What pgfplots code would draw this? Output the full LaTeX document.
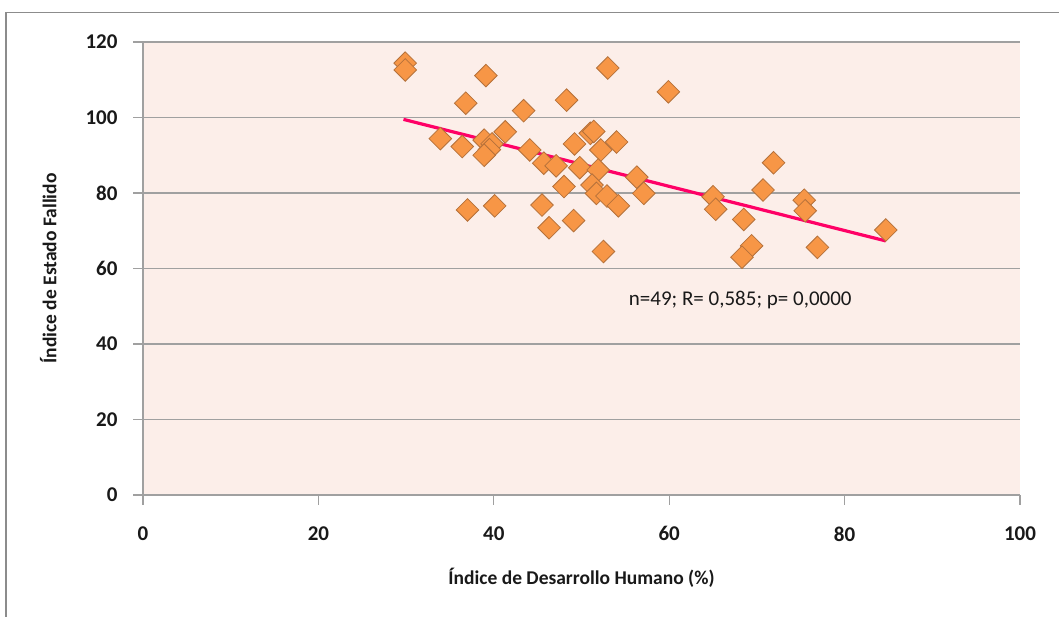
\documentclass[border=0pt]{standalone}
\usepackage{fontspec}
\setmainfont{Carlito}
\usepackage{pgfplots}
\pgfplotsset{compat=1.18}
\definecolor{bgpink}{HTML}{FCEEE9}
\definecolor{mkfill}{HTML}{F79646}
\definecolor{mkdraw}{HTML}{B5713A}
\definecolor{trend}{HTML}{FF0066}
\definecolor{gridgray}{HTML}{A0A0A0}
\definecolor{framegray}{HTML}{8C8C8C}
\begin{document}
\begin{tikzpicture}[x=1pt,y=1pt]
\path[use as bounding box] (0,0) rectangle (1059,617);
\draw[color=framegray, line width=1.6pt] (6,0) -- (6,604.5) -- (1059,604.5);
\begin{axis}[
  at={(143pt,122pt)}, anchor=south west,
  scale only axis, width=877pt, height=453pt,
  xmin=0, xmax=100, ymin=0, ymax=120,
  xtick={0,20,...,100}, ytick={0,20,...,120},
  axis x line*=bottom, axis y line*=left,
  axis line style={-, draw=gridgray, line width=1.2pt},
  axis background/.style={fill=bgpink},
  ymajorgrids, grid style={draw=gridgray, line width=1.2pt},
  tick align=outside, major tick length=10pt,
  tick style={draw=gridgray, line width=1.2pt},
  /pgf/number format/assume math mode=true,
  ticklabel style={font=\fontsize{21}{25}\selectfont\bfseries, text=black!90},
  yticklabel style={xshift=-12pt},
  xticklabel style={yshift=-18pt},
  xlabel={Índice de Desarrollo Humano (\%)},
  ylabel={Índice de Estado Fallido},
  label style={font=\fontsize{19.5}{23}\selectfont\bfseries, text=black!90},
  x label style={at={(axis description cs:0.5,-0.183)}, anchor=center},
  y label style={at={(axis description cs:-0.108,0.5)}, anchor=center, rotate=0},
  clip=false,
]
\addplot[only marks, mark=square*, mark size=8pt,
  mark options={rotate=45, fill=mkfill, draw=mkdraw, line width=0.8pt}]
  table {
x y
29.9 114.4
29.9 112.6
39.1 111.1
53.0 113.1
59.9 106.8
36.8 103.8
43.4 101.8
48.3 104.6
33.9 94.4
36.4 92.3
38.9 94.0
39.8 93.0
39.5 91.5
38.9 90.0
41.3 96.2
44.1 91.4
45.7 87.9
47.1 87.2
49.2 93.0
51.0 95.8
51.4 96.3
52.2 91.4
54.0 93.5
49.8 86.7
51.9 86.1
56.3 84.2
57.1 79.9
48.0 81.7
51.2 82.1
51.7 79.9
52.9 79.2
54.2 76.6
37.0 75.5
40.1 76.6
45.5 76.8
46.3 70.8
49.1 72.7
52.5 64.5
71.9 88.0
70.7 80.8
65.0 79.0
65.3 75.7
68.5 73.0
69.4 66.0
68.3 63.0
75.4 78.1
75.5 75.3
76.9 65.6
84.7 70.2
};
\addplot[trend, line width=3.2pt] coordinates {(29.7,99.5) (84.7,67.3)};
\node[font=\fontsize{21}{25}\selectfont, text=black!90] at (axis cs:68.1,51.7) {n=49; R= 0,585; p= 0,0000};
\end{axis}
\end{tikzpicture}
\end{document}
